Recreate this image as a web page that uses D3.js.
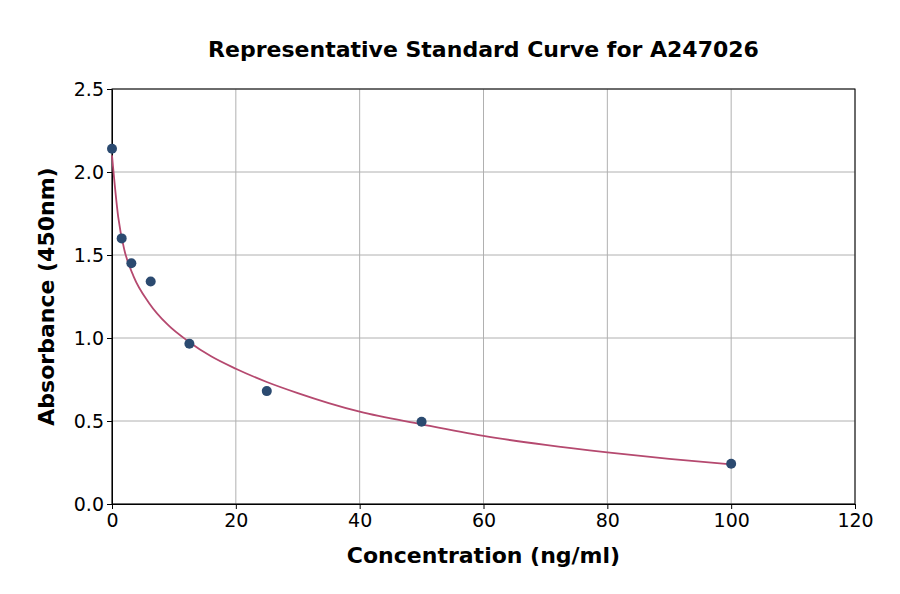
<!DOCTYPE html>
<html>
<head>
<meta charset="utf-8">
<script src="https://cdn.jsdelivr.net/npm/d3@7"></script>
<style>
	body { margin: 0; background: #fff; }
	text { font-family: "DejaVu Sans", sans-serif; fill: #000; }
	.grid line { stroke: #b0b0b0; stroke-width: 1; }
	.axis path, .axis line { stroke: #000; }
</style>
</head>
<body>
<svg id="chart"></svg>
<script>
// Standard points
var conc = [0, 1.5625, 3.125, 6.25, 12.5, 25, 50, 100];
var absorb = [2.14, 1.60, 1.45, 1.34, 0.965, 0.68, 0.495, 0.243];

// Fitted curve
var curveX = [0, 1, 2, 3.5, 6, 9, 12.5, 16, 20, 25, 30, 35, 40, 50, 60, 70, 80, 90, 100];
var curveY = [2.10, 1.73, 1.53, 1.37, 1.21, 1.08, 0.975, 0.89, 0.815, 0.735, 0.668, 0.608, 0.556, 0.48, 0.41, 0.356, 0.311, 0.272, 0.239];

var xTicks = [0, 20, 40, 60, 80, 100, 120];
var yTicks = [0, 0.5, 1.0, 1.5, 2.0, 2.5];

var width = 900,
	height = 594,
	margin = {left: 112, right: 45, top: 89, bottom: 90};

var svg = d3.select("#chart")
	.attr("width", width)
	.attr("height", height);

var x = d3.scaleLinear().domain([0, 120]).range([margin.left, width - margin.right]);
var y = d3.scaleLinear().domain([0, 2.5]).range([height - margin.bottom, margin.top]);

// Grid
var grid = svg.append("g").classed("grid", true);
grid.selectAll(".gx")
	.data(xTicks)
	.enter()
		.append("line")
			.attr("x1", function(d){ return x(d); })
			.attr("x2", function(d){ return x(d); })
			.attr("y1", y(0))
			.attr("y2", y(2.5));
grid.selectAll(".gy")
	.data(yTicks)
	.enter()
		.append("line")
			.attr("x1", x(0))
			.attr("x2", x(120))
			.attr("y1", function(d){ return y(d); })
			.attr("y2", function(d){ return y(d); });

// Axes
svg.append("g")
	.classed("axis", true)
	.attr("transform", "translate(0," + y(0) + ")")
	.call(d3.axisBottom(x).tickValues(xTicks).tickSize(5).tickSizeOuter(0).tickFormat(d3.format("d")))
	.call(function(g){ g.selectAll("text").style("font-size", "19px").attr("dy", "0.8em"); });

svg.append("g")
	.classed("axis", true)
	.attr("transform", "translate(" + x(0) + ",0)")
	.call(d3.axisLeft(y).tickValues(yTicks).tickSize(5).tickSizeOuter(0).tickFormat(d3.format(".1f")))
	.call(function(g){ g.selectAll("text").style("font-size", "19px"); });

// Frame
svg.append("rect")
	.attr("x", x(0))
	.attr("y", y(2.5))
	.attr("width", x(120) - x(0))
	.attr("height", y(0) - y(2.5))
	.attr("fill", "none")
	.attr("stroke", "#000")
	.attr("stroke-width", 1);

// Curve
var line = d3.line()
	.curve(d3.curveMonotoneX)
	.x(function(d){ return x(d[0]); })
	.y(function(d){ return y(d[1]); });

svg.append("path")
	.datum(d3.zip(curveX, curveY))
	.attr("d", line)
	.attr("fill", "none")
	.attr("stroke", "#b5496f")
	.attr("stroke-width", 1.8);

// Points
svg.append("g")
	.selectAll("circle")
	.data(d3.zip(conc, absorb))
	.enter()
		.append("circle")
			.attr("cx", function(d){ return x(d[0]); })
			.attr("cy", function(d){ return y(d[1]); })
			.attr("r", 5)
			.attr("fill", "#2b4a70");

// Titles
svg.append("text")
	.attr("x", (x(0) + x(120)) / 2)
	.attr("y", 57)
	.attr("text-anchor", "middle")
	.style("font-size", "22px")
	.style("font-weight", "bold")
	.text("Representative Standard Curve for A247026");

svg.append("text")
	.attr("x", (x(0) + x(120)) / 2)
	.attr("y", 563)
	.attr("text-anchor", "middle")
	.style("font-size", "22px")
	.style("font-weight", "bold")
	.text("Concentration (ng/ml)");

svg.append("text")
	.attr("transform", "translate(54," + ((y(0) + y(2.5)) / 2) + ") rotate(-90)")
	.attr("text-anchor", "middle")
	.style("font-size", "22px")
	.style("font-weight", "bold")
	.text("Absorbance (450nm)");
</script>
</body>
</html>
